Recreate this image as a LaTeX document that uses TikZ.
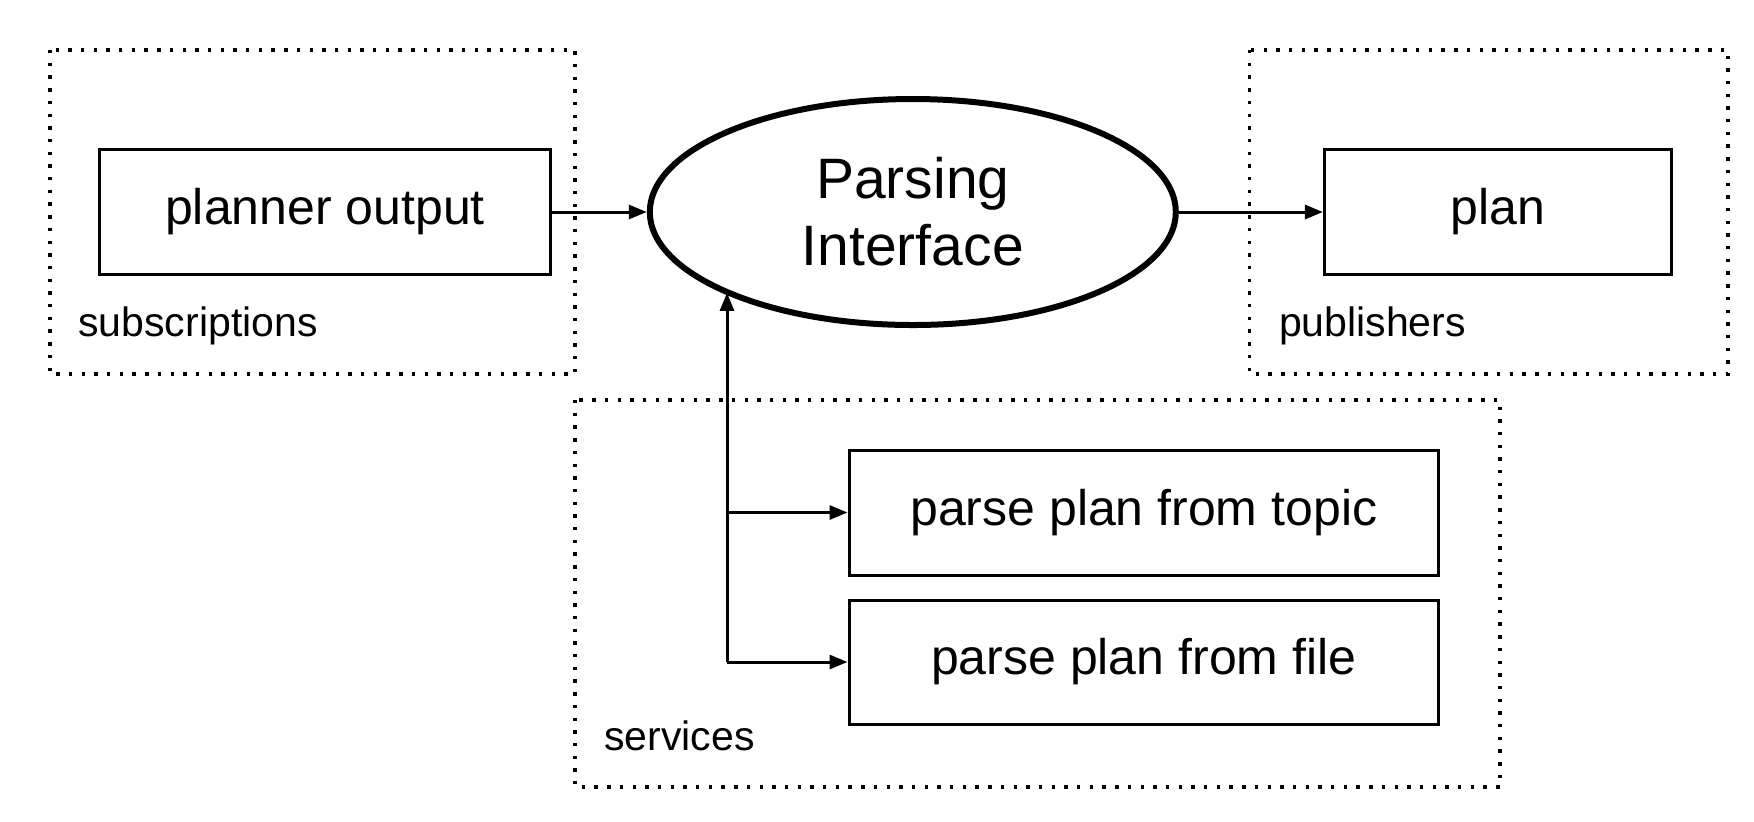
\documentclass[tikz,border=0pt]{standalone}
\usepackage{fontspec}
\setmainfont{Liberation Sans}
\usetikzlibrary{arrows.meta,shapes.geometric}
\tikzset{
  grp/.style={line width=1.7pt, dash pattern=on 1.7pt off 4.65pt},
  boxnode/.style={draw, line width=1.5pt, rectangle, inner sep=0pt, minimum height=62.5pt,
    font=\fontsize{25}{30}\selectfont},
  ifnode/.style={draw, ellipse, line width=3pt, inner sep=0pt, minimum width=263pt, minimum height=113pt,
    align=center, font=\fontsize{28.5}{33.5}\selectfont},
  lbl/.style={anchor=base west, inner sep=0pt, font=\fontsize{20.5}{24}\selectfont},
  arr/.style={line width=1.5pt, -{Triangle[length=9pt,width=7pt]}}
}
\begin{document}
\begin{tikzpicture}[x=0.5pt,y=-0.5pt]
\useasboundingbox (0,0) rectangle (1754,821);
% group frames
\draw[grp] (50,50) rectangle (575,374);
\draw[grp] (1249.5,50) rectangle (1728,374);
\draw[grp] (575,400) rectangle (1500,787);
\node[lbl] (lsub) at (78,336.5) {subscriptions};
\node[lbl] (lpub) at (1278.6,336.5) {publishers};
\node[lbl] (lsrv) at (604,750.5) {services};
% nodes
\node[boxnode, minimum width=225.4pt] (planner) at (325,212) {planner output};
\node[ifnode] (pi) at (912.8,212) {Parsing\\Interface};
\node[boxnode, minimum width=173.3pt] (plan) at (1497.7,212) {plan};
\node[boxnode, minimum width=294.75pt] (topic) at (1143.75,512.5) {parse plan from topic};
\node[boxnode, minimum width=294.75pt, minimum height=62pt] (file) at (1143.75,662) {parse plan from file};
% connectors
\coordinate (j1) at (727,512.5);
\coordinate (j2) at (727,662);
\draw[arr] (planner.east) -- (pi.west);
\draw[arr] (pi.east) -- (plan.west);
\draw[arr] (j2) -- (j2 |- pi.203.4);
\draw[arr] (j1) -- (topic.west);
\draw[arr] (j2) -- (file.west);
\end{tikzpicture}
\end{document}
